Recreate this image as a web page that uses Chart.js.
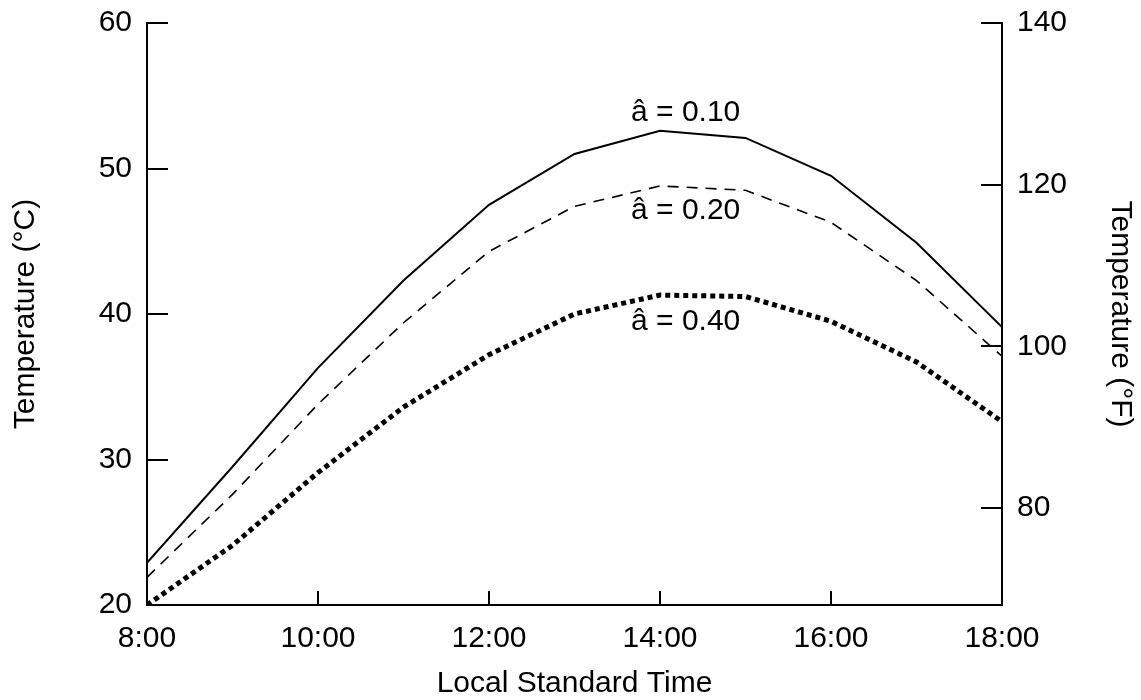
<!DOCTYPE html>
<html>
<head>
<meta charset="utf-8">
<script src="https://cdn.jsdelivr.net/npm/chart.js@4.4.0/dist/chart.umd.min.js"></script>
<style>
html,body{margin:0;padding:0;background:#fff;}
canvas{display:block;}
</style>
</head>
<body>
<canvas id="c" width="1141" height="700"></canvas>
<script>
// ---- data ----
const hours = [8, 9, 10, 11, 12, 13, 14, 15, 16, 17, 18];
const albedo010 = [22.9, 29.5, 36.3, 42.3, 47.5, 51.0, 52.6, 52.1, 49.5, 44.9, 39.1];
const albedo020 = [21.9, 27.6, 33.8, 39.4, 44.3, 47.4, 48.8, 48.5, 46.3, 42.3, 37.1];
const albedo040 = [20.0, 24.1, 29.1, 33.6, 37.2, 40.0, 41.3, 41.2, 39.5, 36.7, 32.6];
const seriesLabels = ['â = 0.10', 'â = 0.20', 'â = 0.40'];
const xTickValues = [8, 10, 12, 14, 16, 18];
const celsiusTicks = [20, 30, 40, 50, 60];
const fahrenheitTicks = [80, 100, 120, 140];

// label anchors (hour, °C)
const labelHours = [14.3, 14.3, 14.3];
const labelTemps = [53.8, 47.1, 39.5];

const FONT_FAMILY = "'Liberation Sans', Arial, Helvetica, sans-serif";
const FONT = {family: FONT_FAMILY, size: 30};
const cToF = c => c * 9 / 5 + 32;

const innerTicks = {
  id: 'innerTicks',
  afterDraw(chart) {
    const {ctx, chartArea: a, scales: {x, y, y2}} = chart;
    ctx.save();
    ctx.strokeStyle = '#000';
    ctx.lineWidth = 2;
    ctx.beginPath();
    celsiusTicks.filter(v => v > y.min).forEach(v => {
      const p = Math.round(y.getPixelForValue(v));
      ctx.moveTo(a.left, p); ctx.lineTo(a.left + 21, p);
    });
    fahrenheitTicks.forEach(v => {
      const p = Math.round(y2.getPixelForValue(v));
      ctx.moveTo(a.right, p); ctx.lineTo(a.right - 21, p);
    });
    xTickValues.filter(v => v > x.min && v < x.max).forEach(v => {
      const p = Math.round(x.getPixelForValue(v));
      ctx.moveTo(p, a.bottom); ctx.lineTo(p, a.bottom - 14);
    });
    ctx.stroke();
    ctx.restore();
  }
};

const seriesText = {
  id: 'seriesText',
  afterDraw(chart) {
    const {ctx, scales: {x, y}} = chart;
    ctx.save();
    ctx.fillStyle = '#000';
    ctx.font = '30px ' + FONT_FAMILY;
    ctx.textAlign = 'center';
    ctx.textBaseline = 'middle';
    seriesLabels.forEach((t, i) => {
      ctx.fillText(t, x.getPixelForValue(labelHours[i]), y.getPixelForValue(labelTemps[i]));
    });
    ctx.restore();
  }
};

const toPoints = arr => hours.map((h, i) => ({x: h, y: arr[i]}));
const noOverhang = s => { s.paddingTop = 0; s.paddingBottom = 0; s.paddingLeft = 0; s.paddingRight = 0; };

new Chart(document.getElementById('c').getContext('2d'), {
  type: 'line',
  data: {
    datasets: [
      {label: seriesLabels[0], data: toPoints(albedo010), borderColor: '#000', borderWidth: 2,
       pointRadius: 0, tension: 0, fill: false, yAxisID: 'y'},
      {label: seriesLabels[1], data: toPoints(albedo020), borderColor: '#000', borderWidth: 1.6,
       borderDash: [11, 8], pointRadius: 0, tension: 0, fill: false, yAxisID: 'y'},
      {label: seriesLabels[2], data: toPoints(albedo040), borderColor: '#000', borderWidth: 5,
       borderDash: [5, 4], borderCapStyle: 'butt', pointRadius: 0, tension: 0, fill: false, yAxisID: 'y'}
    ]
  },
  options: {
    responsive: false,
    animation: false,
    devicePixelRatio: 1,
    layout: {padding: {top: 23, left: 0, right: 0, bottom: 0}},
    plugins: {legend: {display: false}, tooltip: {enabled: false}},
    scales: {
      x: {
        type: 'linear', position: 'bottom', min: 8, max: 18,
        afterBuildTicks: s => { s.ticks = xTickValues.map(v => ({value: v})); },
        afterFit: s => { s.height = 95; noOverhang(s); },
        ticks: {callback: v => v + ':00', font: FONT, color: '#000', padding: 16, maxRotation: 0, autoSkip: false},
        grid: {display: false, drawTicks: false},
        border: {display: true, color: '#000', width: 2},
        title: {display: true, text: 'Local Standard Time', font: {family: FONT_FAMILY, size: 30, lineHeight: 1.1}, color: '#000', padding: 0}
      },
      y: {
        type: 'linear', position: 'left', min: 20, max: 60,
        afterBuildTicks: s => { s.ticks = celsiusTicks.map(v => ({value: v})); },
        afterFit: s => { s.width = 147; noOverhang(s); },
        ticks: {font: FONT, color: '#000', padding: 15},
        grid: {display: false, drawTicks: false},
        border: {display: true, color: '#000', width: 2},
        title: {display: true, text: 'Temperature (°C)', font: FONT, color: '#000', padding: {top: 8, bottom: 0}}
      },
      y2: {
        type: 'linear', position: 'right', min: cToF(20), max: cToF(60),
        afterBuildTicks: s => { s.ticks = fahrenheitTicks.map(v => ({value: v})); },
        afterFit: s => { s.width = 139; noOverhang(s); },
        ticks: {font: FONT, color: '#000', padding: 15},
        grid: {display: false, drawTicks: false},
        border: {display: true, color: '#000', width: 2},
        title: {display: true, text: 'Temperature (°F)', font: FONT, color: '#000', padding: {top: 3, bottom: 0}}
      }
    }
  },
  plugins: [innerTicks, seriesText]
});
</script>
</body>
</html>
